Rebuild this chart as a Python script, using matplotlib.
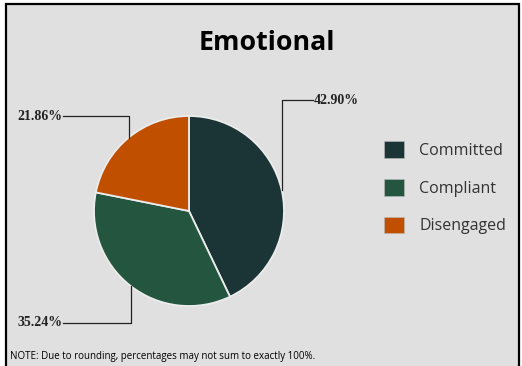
import numpy as np
import matplotlib.pyplot as plt
from matplotlib.patches import Rectangle, Patch

categories = ['Committed', 'Compliant', 'Disengaged']
shares = [42.90, 35.24, 21.86]
colors = ['#1b3436', '#23553f', '#c05000']
title = 'Emotional'
note = 'NOTE: Due to rounding, percentages may not sum to exactly 100%.'

W, H = 522, 366
fig = plt.figure(figsize=(W / 100, H / 100), dpi=100)
fig.patch.set_facecolor('white')
ax = fig.add_axes([0, 0, 1, 1])

# panel with black frame, open at the bottom edge
ax.add_patch(Rectangle((6, -10), 513, H - 4 + 10, facecolor='#e0e0e0',
                       edgecolor='black', lw=1.6, zorder=0))

ax.text(267, H - 43, title, ha='center', va='center', fontsize=19.3,
        fontweight='bold', family='Open Sans', color='black')

cx, cy, r = 189, H - 211, 95
wedges, _ = ax.pie(shares, colors=colors, startangle=90, counterclock=False,
                   center=(cx, cy), radius=r, frame=True,
                   wedgeprops=dict(edgecolor='#ececec', linewidth=1.3))
ax.set_xlim(0, W)
ax.set_ylim(0, H)
ax.set_aspect('equal')
ax.axis('off')

# leader lines: from wedge midpoint straight up/down, then across to the label
label_y = [H - 100, H - 323, H - 116]
label_x = [313, 63, 63]
for w, val, ly, lx in zip(wedges, shares, label_y, label_x):
    mid = np.deg2rad((w.theta1 + w.theta2) / 2)
    px, py = cx + r * np.cos(mid), cy + r * np.sin(mid)
    ax.plot([px, px, lx], [py, ly, ly], color='#222222', lw=0.9, zorder=3)
    ax.text(lx + (0.5 if lx > cx else -0.5), ly, f'{val:.2f}%',
            ha='left' if lx > cx else 'right', va='center',
            family='Liberation Serif', fontweight='bold', fontsize=10,
            color='#222222')

handles = [Patch(facecolor=c, edgecolor='#bbbbbb', lw=0.4) for c in colors]
ax.legend(handles, categories, loc='upper left',
          bbox_to_anchor=(384, H - 141), bbox_transform=ax.transData,
          frameon=False, borderpad=0, borderaxespad=0, handlelength=1.25,
          handleheight=1.25, handletextpad=0.95, labelspacing=1.25,
          prop={'family': 'Open Sans', 'size': 11.5}, labelcolor='#333333')

ax.text(10, H - 356, note, ha='left', va='center', fontsize=7.0,
        family='Open Sans', color='black')

fig.savefig('out.png', dpi=100, facecolor='white')
